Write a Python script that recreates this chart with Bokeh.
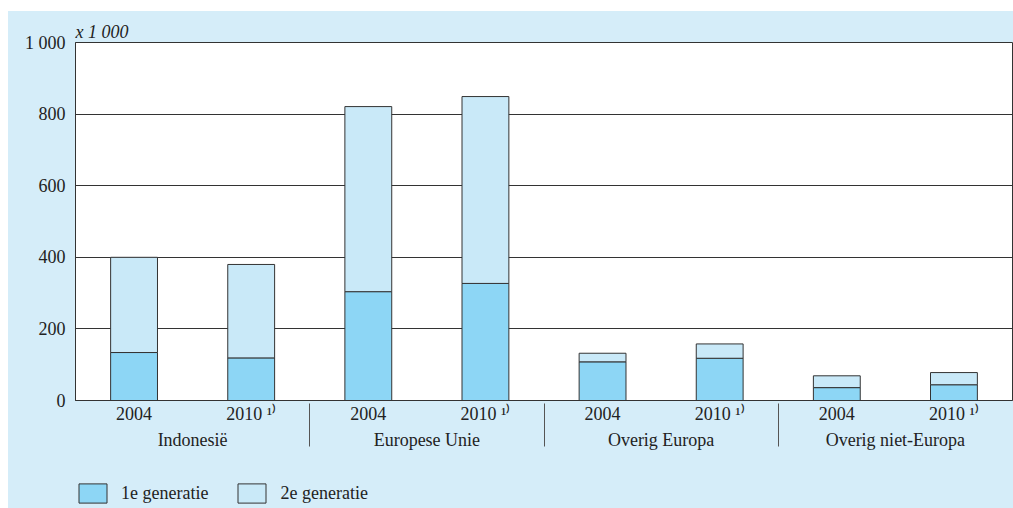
from bokeh.plotting import figure
from bokeh.layouts import column
from bokeh.models import FactorRange, FixedTicker, Legend, LegendItem, Title, ColumnDataSource
from bokeh.embed import file_html
from bokeh.resources import INLINE

groups = ["Indonesië", "Europese Unie", "Overig Europa", "Overig niet-Europa"]
years = ["2004", "2010 \u00b9\u207e"]
first_gen = [134, 119, 304, 327, 108, 118, 36, 44]
total = [400, 380, 821, 849, 132, 158, 69, 78]
y_ticks = [0, 200, 400, 600, 800, 1000]
y_tick_labels = ["0", "200", "400", "600", "800", "1 000"]
legend_labels = ["1e generatie", "2e generatie"]

BG = "#d5edf9"
C1 = "#8dd6f5"
C2 = "#c9e9f8"
EDGE = "#333333"
TXT = "#222222"
FONT = "Liberation Serif"

factors = [(g, y) for g in groups for y in years]
src = ColumnDataSource(dict(x=factors, first=first_gen, total=total))

xr = FactorRange(factors=factors, factor_padding=0, group_padding=0, range_padding=0)
p = figure(frame_width=937, frame_height=358, x_range=xr, y_range=(0, 1000),
           output_backend="svg", toolbar_location=None,
           min_border_left=67, min_border_right=1, min_border_top=31, min_border_bottom=50)
p.border_fill_color = BG
p.background_fill_color = "white"
p.outline_line_color = EDGE
p.outline_line_width = 1

p.vbar(x="x", top="first", bottom=0, width=0.4, source=src,
       fill_color=C1, line_color=EDGE, line_width=1)
p.vbar(x="x", top="total", bottom="first", width=0.4, source=src,
       fill_color=C2, line_color=EDGE, line_width=1)

p.xgrid.grid_line_color = None
p.ygrid.grid_line_color = EDGE
p.ygrid.grid_line_width = 1
p.ygrid.level = "underlay"

p.yaxis.ticker = FixedTicker(ticks=y_ticks)
p.yaxis.major_label_overrides = {t: l for t, l in zip(y_ticks, y_tick_labels)}
p.yaxis.major_tick_out = 0
p.yaxis.major_tick_in = 0
p.yaxis.minor_tick_out = 0
p.yaxis.major_label_standoff = 10
p.yaxis.axis_line_color = EDGE
p.yaxis.major_label_text_font = FONT
p.yaxis.major_label_text_font_size = "18px"
p.yaxis.major_label_text_color = TXT

xa = p.xaxis[0]
xa.major_tick_out = 0
xa.major_tick_in = 0
xa.axis_line_color = EDGE
xa.major_label_text_font = FONT
xa.major_label_text_font_size = "18px"
xa.major_label_text_color = TXT
xa.major_label_standoff = 3
xa.group_text_font = FONT
xa.group_text_font_size = "18px"
xa.group_text_font_style = "normal"
xa.group_text_color = TXT
xa.separator_line_color = "#555555"
xa.separator_line_width = 1

p.add_layout(Title(text="x 1 000", align="left", text_font=FONT, text_font_style="italic",
                   text_font_size="18px", text_color=TXT, standoff=2, offset=0), "above")

# legend strip below the chart; swatch renderers hold one point outside the visible range
p2 = figure(width=1005, height=58, x_range=(0, 1), y_range=(0, 1),
            x_axis_type=None, y_axis_type=None,
            output_backend="svg", toolbar_location=None,
            min_border_left=0, min_border_right=0, min_border_top=0, min_border_bottom=0)
p2.border_fill_color = BG
p2.background_fill_color = BG
p2.background_fill_alpha = 0
p2.outline_line_color = None
p2.grid.visible = False
l1 = p2.vbar(x=[-5], top=[-5], bottom=[-6], width=0.4, fill_color=C1, line_color=EDGE, line_width=1)
l2 = p2.vbar(x=[-5], top=[-5], bottom=[-6], width=0.4, fill_color=C2, line_color=EDGE, line_width=1)

legend = Legend(items=[LegendItem(label=legend_labels[0], renderers=[l1]),
                       LegendItem(label=legend_labels[1], renderers=[l2])],
                orientation="horizontal", location=(0, 5),
                background_fill_alpha=0, border_line_color=None,
                glyph_width=35, glyph_height=24, label_standoff=11, spacing=26,
                label_text_font=FONT, label_text_font_size="18px", label_text_color=TXT,
                padding=0, margin=0)
p2.add_layout(legend, "center")

layout = column(p, p2, spacing=0, margin=(11, 0, 0, 8), styles={"background-color": BG})
open("out.html", "w").write(file_html(layout, INLINE))
